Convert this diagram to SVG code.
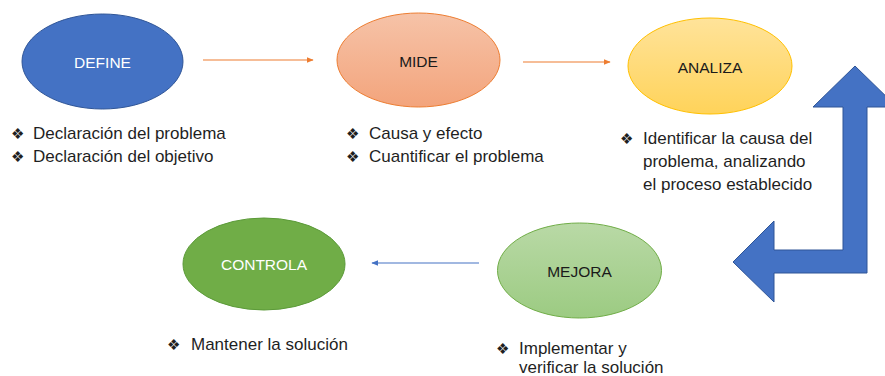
<svg xmlns="http://www.w3.org/2000/svg" width="885" height="376" viewBox="0 0 885 376">
<defs>
<linearGradient id="gOrange" x1="0" y1="0" x2="0" y2="1"><stop offset="0" stop-color="#F6C3A8"/><stop offset="1" stop-color="#F3A47C"/></linearGradient>
<linearGradient id="gYellow" x1="0" y1="0" x2="0" y2="1"><stop offset="0" stop-color="#FFE39A"/><stop offset="1" stop-color="#FFD35A"/></linearGradient>
<linearGradient id="gGreen" x1="0" y1="0" x2="0" y2="1"><stop offset="0" stop-color="#B9D9A6"/><stop offset="1" stop-color="#9CCB82"/></linearGradient>
<marker id="ao" viewBox="0 0 10 10" refX="9" refY="5" markerWidth="7" markerHeight="7" markerUnits="userSpaceOnUse" orient="auto"><path d="M0,1 L10,5 L0,9 z" fill="#ED7D31"/></marker>
<marker id="ab" viewBox="0 0 10 10" refX="9" refY="5" markerWidth="7" markerHeight="7" markerUnits="userSpaceOnUse" orient="auto"><path d="M0,1 L10,5 L0,9 z" fill="#4472C4"/></marker>
</defs>
<style>
.lbl{font-family:"Liberation Sans",Arial,sans-serif;font-size:15.5px;text-anchor:middle;dominant-baseline:central}
.txt{font-family:"Liberation Sans",Arial,sans-serif;font-size:17px;fill:#1f1f1f}
.bul{font-family:"DejaVu Sans",sans-serif;font-size:15px;fill:#1f1f1f}
.co{stroke:#ED7D31;stroke-width:1.2;fill:none}
.cb{stroke:#4472C4;stroke-width:1.2;fill:none}
</style>
<rect width="885" height="376" fill="#ffffff"/>
<g id="connectors">
<line class="co" x1="203" y1="60" x2="313" y2="60" marker-end="url(#ao)"/>
<line class="co" x1="523" y1="62" x2="610" y2="62" marker-end="url(#ao)"/>
<line class="cb" x1="479" y1="263" x2="372" y2="263" marker-end="url(#ab)"/>
<path id="bent-arrow" d="M855,66 L897,107 L867,107 L867,273 L774,273 L774,302 L733,262 L774,221 L774,250 L843,250 L843,107 L813,107 Z" fill="#4472C4" stroke="#2F5597" stroke-width="1"/>
</g>
<g id="define">
<ellipse cx="102.5" cy="61.5" rx="80.5" ry="47.5" fill="#4472C4" stroke="#2F5597" stroke-width="1"/>
<text class="lbl" x="102.5" y="62" fill="#ffffff">DEFINE</text>
<text class="bul" x="11" y="139">❖</text><text class="txt" x="33" y="139">Declaración del problema</text>
<text class="bul" x="11" y="162">❖</text><text class="txt" x="33" y="162">Declaración del objetivo</text>
</g>
<g id="mide">
<ellipse cx="418.5" cy="60" rx="81.5" ry="47" fill="url(#gOrange)" stroke="#ED7D31" stroke-width="1"/>
<text class="lbl" x="418.5" y="61" fill="#1a1a1a">MIDE</text>
<text class="bul" x="346" y="139">❖</text><text class="txt" x="369" y="139">Causa y efecto</text>
<text class="bul" x="346" y="162">❖</text><text class="txt" x="369" y="162">Cuantificar el problema</text>
</g>
<g id="analiza">
<ellipse cx="710" cy="66" rx="82" ry="48" fill="url(#gYellow)" stroke="#FFC000" stroke-width="1"/>
<text class="lbl" x="710" y="67" fill="#1a1a1a">ANALIZA</text>
<text class="bul" x="620" y="144">❖</text><text class="txt" x="643" y="144">Identificar la causa del</text>
<text class="txt" x="643" y="167">problema, analizando</text>
<text class="txt" x="643" y="190">el proceso establecido</text>
</g>
<g id="mejora">
<ellipse cx="579.5" cy="270.5" rx="82" ry="47.5" fill="url(#gGreen)" stroke="#70AD47" stroke-width="1"/>
<text class="lbl" x="579.5" y="271" fill="#1a1a1a">MEJORA</text>
<text class="bul" x="496" y="354">❖</text><text class="txt" x="519" y="354">Implementar y</text>
<text class="txt" x="519" y="373">verificar la solución</text>
</g>
<g id="controla">
<ellipse cx="264" cy="264" rx="81" ry="46" fill="#70AD47" stroke="#5B9A38" stroke-width="1"/>
<text class="lbl" x="264" y="264" fill="#ffffff">CONTROLA</text>
<text class="bul" x="167" y="350">❖</text><text class="txt" x="191" y="350">Mantener la solución</text>
</g>
</svg>
